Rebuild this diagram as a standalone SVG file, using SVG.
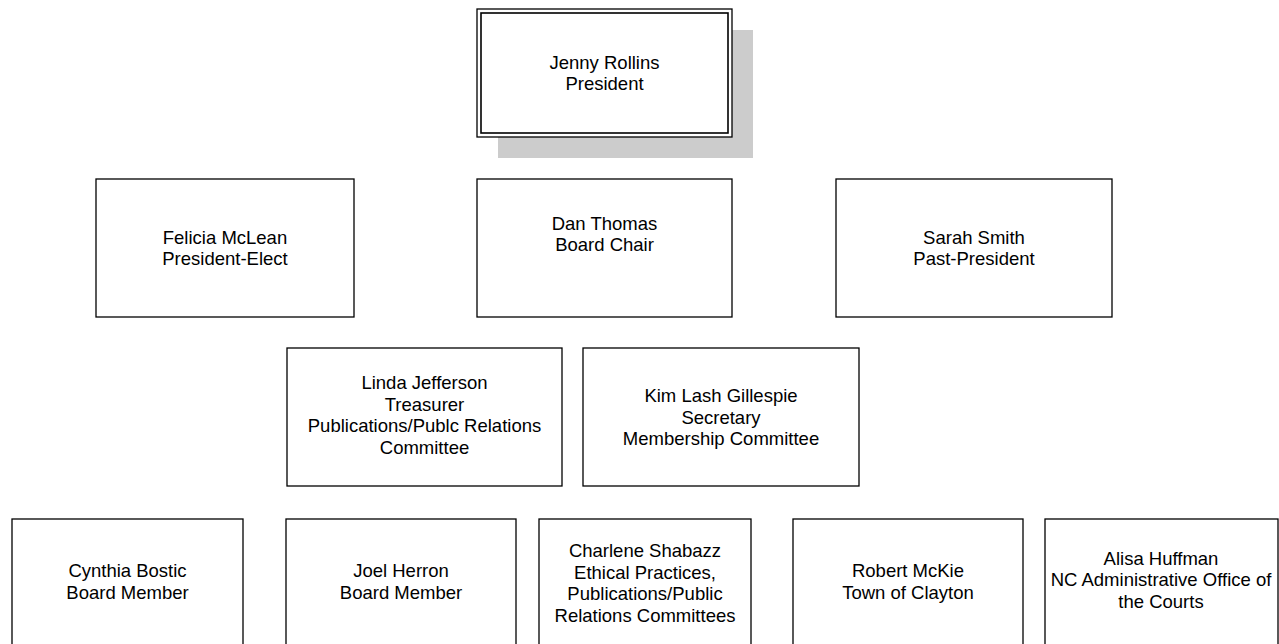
<svg xmlns="http://www.w3.org/2000/svg" width="1279" height="644" viewBox="0 0 1279 644">
<style>
.box{fill:#fff;stroke:#000;stroke-width:1.3}
.t{font-family:"Liberation Sans",Arial,sans-serif;font-size:18.5px;fill:#000;text-anchor:middle}
</style>
<rect width="1279" height="644" fill="#fff"/>
<g id="connectors"></g>
<g id="n-jenny">
<rect x="498" y="30" width="255" height="128" fill="#cccccc"/>
<rect class="box" x="477" y="9" width="255" height="128" stroke-width="1.6"/>
<rect x="481" y="13" width="247" height="120" fill="none" stroke="#000" stroke-width="1.6"/>
<text class="t" x="604.5" y="69">Jenny Rollins</text>
<text class="t" x="604.5" y="90">President</text>
</g>
<g id="n-felicia">
<rect class="box" x="96" y="179" width="258" height="138"/>
<text class="t" x="225" y="244">Felicia McLean</text>
<text class="t" x="225" y="265">President-Elect</text>
</g>
<g id="n-dan">
<rect class="box" x="477" y="179" width="255" height="138"/>
<text class="t" x="604.5" y="230">Dan Thomas</text>
<text class="t" x="604.5" y="251">Board Chair</text>
</g>
<g id="n-sarah">
<rect class="box" x="836" y="179" width="276" height="138"/>
<text class="t" x="974" y="244">Sarah Smith</text>
<text class="t" x="974" y="265">Past-President</text>
</g>
<g id="n-linda">
<rect class="box" x="287" y="348" width="275" height="138"/>
<text class="t" x="424.5" y="389">Linda Jefferson</text>
<text class="t" x="424.5" y="411">Treasurer</text>
<text class="t" x="424.5" y="432">Publications/Publc Relations</text>
<text class="t" x="424.5" y="454">Committee</text>
</g>
<g id="n-kim">
<rect class="box" x="583" y="348" width="276" height="138"/>
<text class="t" x="721" y="402">Kim Lash Gillespie</text>
<text class="t" x="721" y="424">Secretary</text>
<text class="t" x="721" y="445">Membership Committee</text>
</g>
<g id="n-cynthia">
<rect class="box" x="12" y="519" width="231" height="140"/>
<text class="t" x="127.5" y="577">Cynthia Bostic</text>
<text class="t" x="127.5" y="599">Board Member</text>
</g>
<g id="n-joel">
<rect class="box" x="286" y="519" width="230" height="140"/>
<text class="t" x="401" y="577">Joel Herron</text>
<text class="t" x="401" y="599">Board Member</text>
</g>
<g id="n-charlene">
<rect class="box" x="539" y="519" width="212" height="140"/>
<text class="t" x="645" y="557">Charlene Shabazz</text>
<text class="t" x="645" y="579">Ethical Practices,</text>
<text class="t" x="645" y="600">Publications/Public</text>
<text class="t" x="645" y="622">Relations Committees</text>
</g>
<g id="n-robert">
<rect class="box" x="793" y="519" width="230" height="140"/>
<text class="t" x="908" y="577">Robert McKie</text>
<text class="t" x="908" y="599">Town of Clayton</text>
</g>
<g id="n-alisa">
<rect class="box" x="1045" y="519" width="233" height="140"/>
<text class="t" x="1161" y="565">Alisa Huffman</text>
<text class="t" x="1161" y="586">NC Administrative Office of</text>
<text class="t" x="1161" y="608">the Courts</text>
</g>
</svg>
